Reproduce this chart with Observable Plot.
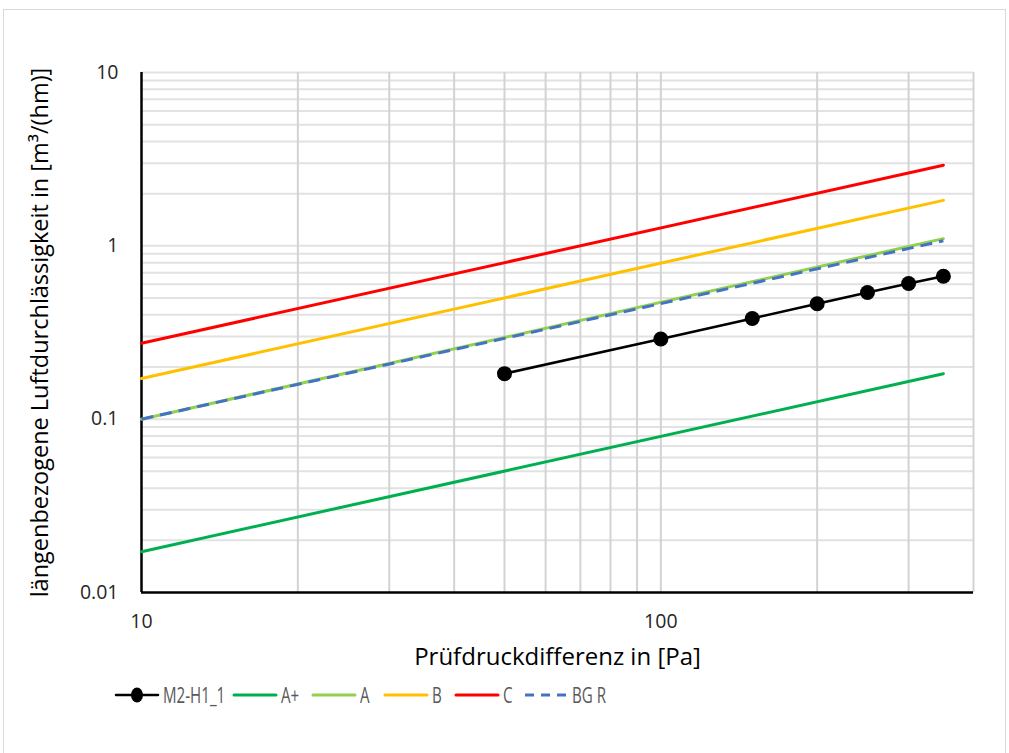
<!DOCTYPE html>
<html>
<head>
<meta charset="utf-8">
<script src="https://cdn.jsdelivr.net/npm/d3@7"></script>
<script src="https://cdn.jsdelivr.net/npm/@observablehq/plot@0.6"></script>
<style>
  body { margin: 0; background: #fff; font-family: "Open Sans", "Noto Sans", sans-serif; }
  #wrap { position: relative; width: 1009px; height: 753px; overflow: hidden; }
  #frame { position: absolute; left: 3px; top: 9px; width: 1003px; height: 750px; border: 1px solid #d9d9d9; box-sizing: border-box; }
  #chart { position: absolute; left: 0; top: 0; }
  #legend { position: absolute; left: 0; top: 681px; width: 1009px; height: 28px; color: #595959; white-space: nowrap; }
  .item { position: absolute; top: 0; display: flex; align-items: center; height: 28px; }
  .item svg { margin-right: 3px; flex: none; }
  .item span { display: inline-block; font-size: 21px; line-height: 28px; transform: scaleX(0.72); transform-origin: left center; }
</style>
</head>
<body>
<div id="wrap">
  <div id="frame"></div>
  <div id="chart"></div>
  <div id="legend"></div>
</div>
<script>
// ---- data ----
const pressure = [50, 100, 150, 200, 250, 300, 350];
const m2h1 = [0.183, 0.29, 0.381, 0.463, 0.538, 0.606, 0.668];

const classPressure = [10, 350];
const aPlus = [0.0172, 0.183];
const aClass = [0.1, 1.10];
const bClass = [0.1715, 1.83];
const cClass = [0.274, 2.92];
const bgR = [0.1, 1.07];

const seriesNames = ["M2-H1_1", "A+", "A", "B", "C", "BG R"];
const seriesColors = ["#000000", "#00B050", "#92D050", "#FFC000", "#FF0000", "#4472C4"];
const legendLeft = [113, 231, 310, 382, 453, 522];

const xTickLabels = [10, 100];
const yTickLabels = [0.01, 0.1, 1, 10];
const xGrid = [20, 30, 40, 50, 60, 70, 80, 90, 100, 200, 300, 400];
const yGrid = [0.02, 0.03, 0.04, 0.05, 0.06, 0.07, 0.08, 0.09, 0.1,
               0.2, 0.3, 0.4, 0.5, 0.6, 0.7, 0.8, 0.9, 1,
               2, 3, 4, 5, 6, 7, 8, 9, 10];

const xTitle = "Prüfdruckdifferenz in [Pa]";
const yTitle = "längenbezogene Luftdurchlässigkeit in [m³/(hm)]";

// ---- build tables ----
const measured = pressure.map((p, i) => ({p, v: m2h1[i]}));
const classes = [
  {name: "A+", vals: aPlus, color: seriesColors[1], dash: null},
  {name: "A", vals: aClass, color: seriesColors[2], dash: null},
  {name: "B", vals: bClass, color: seriesColors[3], dash: null},
  {name: "C", vals: cClass, color: seriesColors[4], dash: null},
  {name: "BG R", vals: bgR, color: seriesColors[5], dash: "12,7"}
];
const classMarks = classes.map(c =>
  Plot.line(classPressure.map((p, i) => ({p, v: c.vals[i]})), {
    x: "p", y: "v", stroke: c.color, strokeWidth: 3,
    strokeDasharray: c.dash, strokeLinecap: c.dash ? "butt" : "round"
  })
);

const chart = Plot.plot({
  width: 1009,
  height: 680,
  marginLeft: 141,
  marginRight: 36,
  marginTop: 72,
  marginBottom: 88,
  style: {fontFamily: "'Open Sans', 'Noto Sans', sans-serif", background: "transparent", overflow: "visible"},
  x: {type: "log", domain: [10, 400]},
  y: {type: "log", domain: [0.01, 10]},
  marks: [
    Plot.ruleY(yGrid, {stroke: "#e2e2e2", strokeWidth: 2}),
    Plot.ruleX(xGrid, {stroke: "#d3d3d3", strokeWidth: 2}),
    Plot.axisX(xTickLabels, {tickSize: 0, tickPadding: 22, fontSize: 19.5, fill: "#262626", label: null, tickFormat: d => String(d)}),
    Plot.axisY(yTickLabels, {tickSize: 0, tickPadding: 23, fontSize: 19.5, fill: "#262626", label: null, tickFormat: d => String(d)}),
    Plot.ruleX([10], {stroke: "#000", strokeWidth: 2.5}),
    Plot.ruleY([0.01], {stroke: "#000", strokeWidth: 2.5}),
    Plot.line(measured, {x: "p", y: "v", stroke: seriesColors[0], strokeWidth: 2.5}),
    Plot.dot(measured, {x: "p", y: "v", r: 7.5, fill: seriesColors[0], stroke: "none"}),
    ...classMarks,
    Plot.text([xTitle], {frameAnchor: "bottom", dy: 72, fontSize: 24, fill: "#000", textAnchor: "middle"}),
    Plot.text([yTitle], {frameAnchor: "left", dx: -101, rotate: -90, fontSize: 23.5, fill: "#000", textAnchor: "middle"})
  ]
});
document.getElementById("chart").appendChild(chart);

// ---- legend ----
const legend = document.getElementById("legend");
seriesNames.forEach((name, i) => {
  const item = document.createElement("div");
  item.className = "item";
  item.style.left = legendLeft[i] + "px";
  const sw = d3.create("svg").attr("width", 47).attr("height", 18);
  const isDash = name === "BG R";
  sw.append("line").attr("x1", 3).attr("x2", 45).attr("y1", 9).attr("y2", 9)
    .attr("stroke", seriesColors[i]).attr("stroke-width", i === 0 ? 2.5 : 3)
    .attr("stroke-linecap", isDash ? "butt" : "round")
    .attr("stroke-dasharray", isDash ? "9,7" : null);
  if (i === 0) sw.append("ellipse").attr("cx", 24).attr("cy", 9).attr("rx", 6).attr("ry", 7.5).attr("fill", "#000");
  item.appendChild(sw.node());
  const t = document.createElement("span");
  t.textContent = name;
  item.appendChild(t);
  legend.appendChild(item);
});
</script>
</body>
</html>
